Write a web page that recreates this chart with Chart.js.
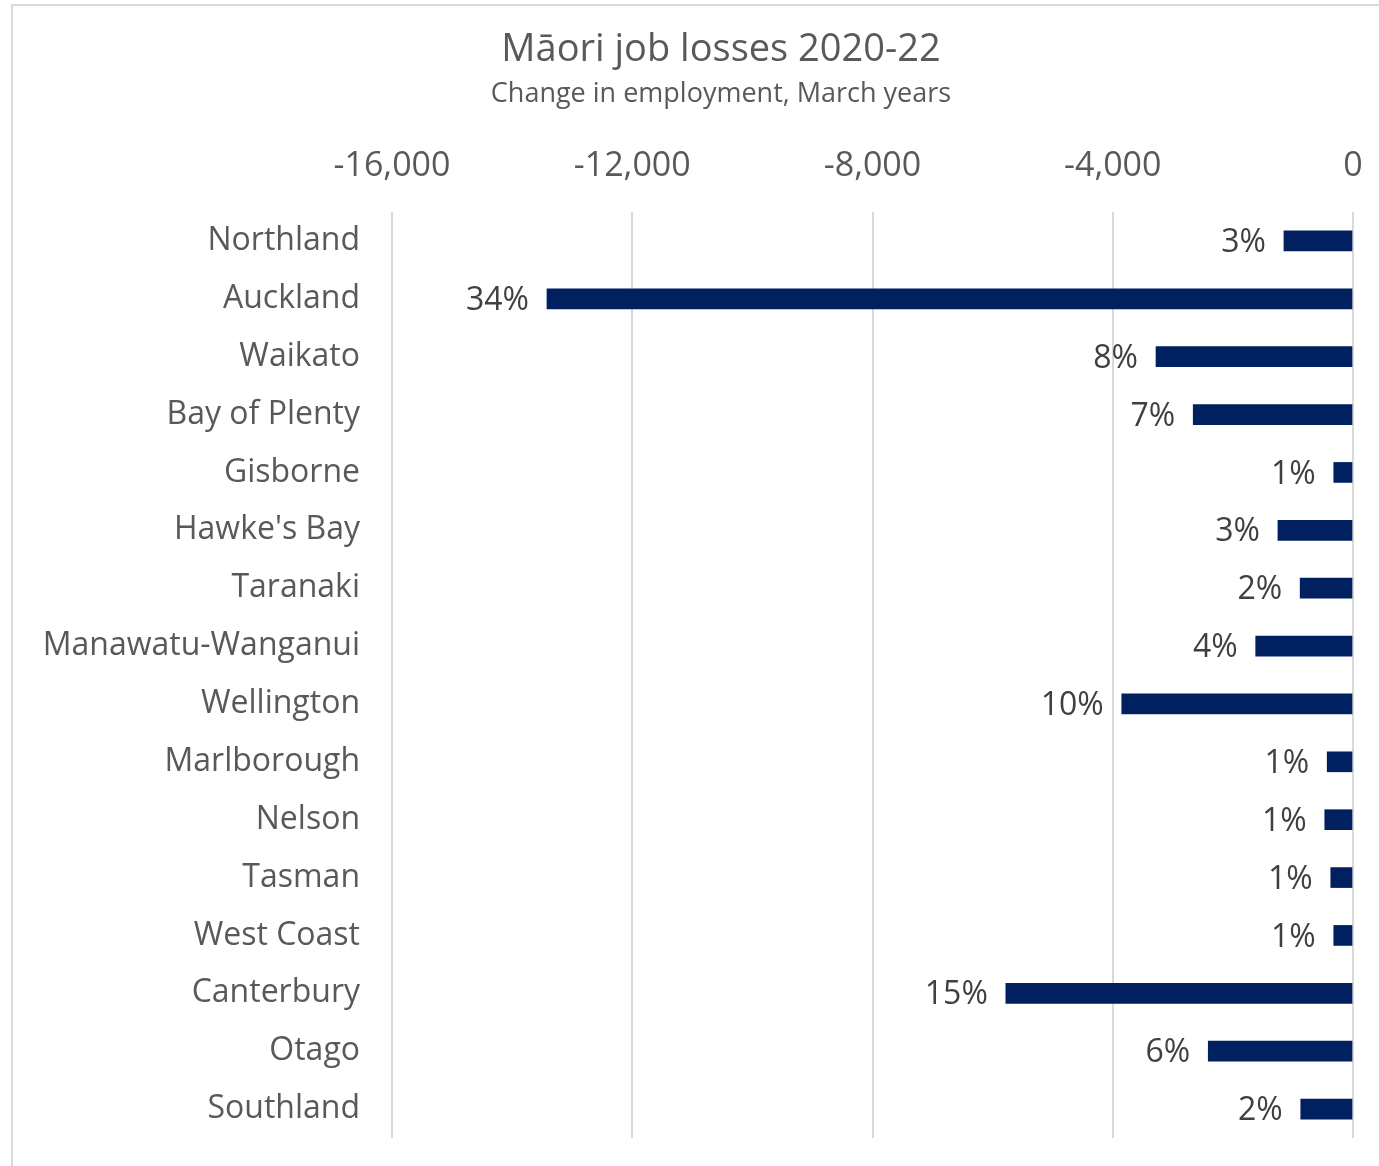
<!DOCTYPE html>
<html>
<head>
<meta charset="utf-8">
<script src="https://cdn.jsdelivr.net/npm/chart.js@4"></script>
<style>
  html, body { margin: 0; padding: 0; background: #fff; overflow: hidden; }
  #frame {
    position: absolute; left: 11px; top: 4px;
    width: 1416px; height: 1170px;
    border: 2px solid #d9d9d9; background: #fff;
  }
</style>
</head>
<body>
<div id="frame"><canvas id="chart" width="1416" height="1170"></canvas></div>
<script>
const regions = ["Northland", "Auckland", "Waikato", "Bay of Plenty", "Gisborne", "Hawke's Bay",
  "Taranaki", "Manawatu-Wanganui", "Wellington", "Marlborough", "Nelson", "Tasman",
  "West Coast", "Canterbury", "Otago", "Southland"];
const jobChange = [-1150, -13420, -3280, -2660, -320, -1250, -880, -1620, -3850, -430, -470,
  -370, -320, -5780, -2410, -870];
const shareLabels = ["3%", "34%", "8%", "7%", "1%", "3%", "2%", "4%", "10%", "1%", "1%",
  "1%", "1%", "15%", "6%", "2%"];
const xTicks = { min: -16000, max: 0, step: 4000 };

const FONT = "'Open Sans', sans-serif";
const grey = "#595959";

// title + subtitle centred on the whole frame (the y labels need the left space)
const headingPlugin = {
  id: "heading",
  afterDraw(chart) {
    const ctx = chart.ctx;
    const cx = chart.width / 2;
    ctx.save();
    ctx.fillStyle = grey;
    ctx.textAlign = "center";
    ctx.textBaseline = "middle";
    ctx.font = "38px " + FONT;
    ctx.fillText("Māori job losses 2020-22", cx, 44);
    ctx.font = "27px " + FONT;
    ctx.fillText("Change in employment, March years", cx, 88);
    ctx.restore();
  }
};

// percent labels to the left of each bar
const shareLabelPlugin = {
  id: "shareLabels",
  afterDatasetsDraw(chart) {
    const ctx = chart.ctx;
    const meta = chart.getDatasetMeta(0);
    ctx.save();
    ctx.font = "32px " + FONT;
    ctx.fillStyle = "#404040";
    ctx.textAlign = "right";
    ctx.textBaseline = "middle";
    meta.data.forEach((bar, i) => {
      ctx.fillText(shareLabels[i], bar.x - 18, bar.y + 2);
    });
    ctx.restore();
  }
};

new Chart(document.getElementById("chart"), {
  type: "bar",
  data: {
    labels: regions,
    datasets: [{
      data: jobChange,
      backgroundColor: "#002060",
      barThickness: 20
    }]
  },
  options: {
    indexAxis: "y",
    responsive: false,
    animation: false,
    layout: { padding: { top: 116, right: 76, bottom: 38, left: 10 } },
    plugins: {
      legend: { display: false },
      tooltip: { enabled: false }
    },
    scales: {
      x: {
        position: "top",
        min: xTicks.min,
        max: xTicks.max,
        afterFit(scale) { scale.height = 90; },
        ticks: {
          stepSize: xTicks.step,
          color: grey,
          font: { family: FONT, size: 34 },
          padding: 25,
          callback: v => v.toLocaleString("en-US")
        },
        grid: { color: "#d9d9d9", lineWidth: 2, drawTicks: false },
        border: { display: false }
      },
      y: {
        afterFit(scale) {
          scale.width = 369;
          scale.paddingTop = 0;
          scale.paddingBottom = 0;
        },
        ticks: {
          color: grey,
          font: { family: FONT, size: 32 },
          padding: 24
        },
        grid: { display: false },
        border: { display: false }
      }
    }
  },
  plugins: [shareLabelPlugin, headingPlugin]
});
</script>
</body>
</html>
